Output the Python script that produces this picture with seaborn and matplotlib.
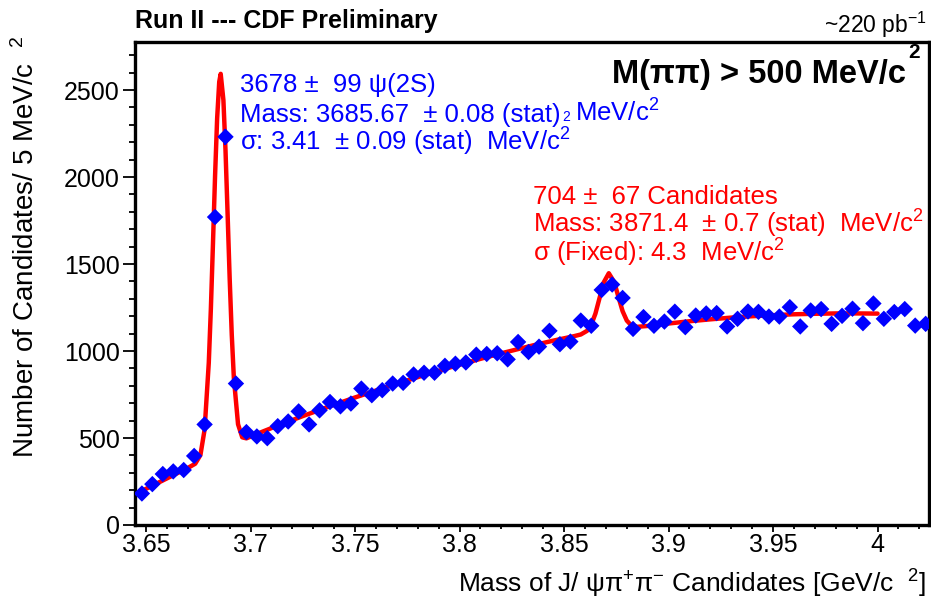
import numpy as np
import matplotlib
matplotlib.use("Agg")
import matplotlib.pyplot as plt
from matplotlib.ticker import MultipleLocator, FuncFormatter
import seaborn as sns

W, H = 931, 605

# histogram: 5 MeV bins, first bin centre at 3.648 GeV
bin_start = 3.648
bin_width = 0.005
candidates = [181, 235, 293, 308, 316, 397, 578, 1770, 2231, 813,
              534, 509, 499, 568, 595, 653, 578, 659, 707, 682,
              698, 784, 746, 775, 813, 817, 865, 875, 875, 915,
              927, 934, 979, 983, 987, 952, 1052, 994, 1025, 1116,
              1039, 1054, 1175, 1145, 1351, 1382, 1305, 1127, 1195, 1145,
              1169, 1226, 1137, 1204, 1216, 1218, 1141, 1185, 1227, 1225,
              1198, 1198, 1252, 1141, 1233, 1241, 1156, 1202, 1243, 1160,
              1273, 1185, 1224, 1241, 1146, 1156]

# fitted curve
fit_mass = [3.6465, 3.650, 3.655, 3.660, 3.665, 3.670, 3.6735, 3.676, 3.678, 3.680,
            3.681, 3.682, 3.683, 3.684, 3.685, 3.6857, 3.687, 3.688, 3.689, 3.690,
            3.691, 3.692, 3.694, 3.696, 3.698, 3.700, 3.705, 3.710, 3.715, 3.720,
            3.725, 3.730, 3.735, 3.740, 3.745, 3.750, 3.755, 3.760, 3.765, 3.770,
            3.775, 3.780, 3.785, 3.790, 3.795, 3.800, 3.805, 3.810, 3.815, 3.820,
            3.825, 3.830, 3.835, 3.840, 3.845, 3.850, 3.855, 3.858, 3.861, 3.863,
            3.865, 3.867, 3.869, 3.8714, 3.874, 3.876, 3.878, 3.880, 3.882, 3.885,
            3.890, 3.895, 3.900, 3.910, 3.920, 3.930, 3.940, 3.950, 3.960, 3.970,
            3.980, 3.990, 4.000]
fit_value = [188, 208, 238, 268, 298, 328, 352, 402, 548, 932,
             1243, 1616, 2004, 2337, 2547, 2593, 2442, 2155, 1789, 1416,
             1093, 845, 579, 504, 498, 508, 533, 557, 580, 603,
             626, 648, 670, 691, 712, 733, 753, 773, 793, 812,
             831, 850, 868, 886, 904, 921, 938, 955, 971, 987,
             1002, 1017, 1032, 1046, 1060, 1073, 1086, 1095, 1116, 1151,
             1215, 1306, 1395, 1447, 1396, 1311, 1229, 1175, 1149, 1139,
             1144, 1151, 1158, 1171, 1182, 1192, 1200, 1206, 1211, 1214,
             1216, 1216, 1215]

sns.set_theme(style="ticks")
plt.rcParams['font.family'] = ['Liberation Sans', 'DejaVu Sans']
plt.rcParams['text.color'] = 'black'
plt.rcParams['mathtext.fontset'] = 'custom'
plt.rcParams['mathtext.rm'] = 'Liberation Sans'
plt.rcParams['mathtext.it'] = 'Liberation Sans:italic'
plt.rcParams['mathtext.bf'] = 'Liberation Sans:bold'

mass = bin_start + bin_width * np.arange(len(candidates))
errors = np.sqrt(candidates)

fig = plt.figure(figsize=(W / 100, H / 100), dpi=100)
ax = fig.add_axes([135 / W, 1 - 525 / H, (929 - 135) / W, (525 - 42) / H])

sns.lineplot(x=fit_mass, y=fit_value, color='red', linewidth=3.2,
             estimator=None, sort=False, ax=ax, zorder=3)
ax.errorbar(mass, candidates, yerr=errors, fmt='none', ecolor='#0000ff',
            elinewidth=1.6, capsize=0, zorder=4)
sns.scatterplot(x=mass, y=candidates, marker='D', s=70, color='#0000ff',
                edgecolor='none', linewidth=0, ax=ax, zorder=5)

ax.set_xlim(3.6447, 4.0246)
ax.set_ylim(0, 2776)
ax.set_xlabel('')
ax.set_ylabel('')

ax.xaxis.set_major_locator(MultipleLocator(0.05))
ax.xaxis.set_minor_locator(MultipleLocator(0.01))
ax.yaxis.set_major_locator(MultipleLocator(500))
ax.yaxis.set_minor_locator(MultipleLocator(100))
ax.xaxis.set_major_formatter(FuncFormatter(lambda v, p: f"{v:g}"))

for sp in ax.spines.values():
    sp.set_linewidth(2.4)
    sp.set_color('black')
ax.tick_params(which='both', direction='out', top=False, right=False,
               colors='black', labelsize=18, width=1.3)
ax.tick_params(axis='y', which='major', length=9, pad=2)
ax.tick_params(axis='y', which='minor', length=4.5)
ax.tick_params(axis='x', which='major', length=5, pad=1)
ax.tick_params(axis='x', which='minor', length=3)


def fx(x):
    return x / W


def fy(y):
    return 1 - y / H


fig.text(fx(135), fy(28), "Run II --- CDF Preliminary", fontsize=18,
         fontweight='bold', ha='left', va='baseline')
fig.text(fx(927), fy(33), "~220 pb$^{-1}$", fontsize=16.5, ha='right', va='baseline')

fig.text(fx(26), fy(36), "Number of Candidates/ 5 MeV/c  $^{2}$", fontsize=20,
         rotation=90, ha='center', va='top')
fig.text(fx(926), fy(593), "Mass of J/ ψπ$^{+}$π$^{-}$ Candidates [GeV/c  $^{2}$]",
         fontsize=19, ha='right', va='baseline')

fig.text(fx(612), fy(83), "M(ππ) > 500 MeV/c", fontsize=23.5, fontweight='bold',
         ha='left', va='baseline')
fig.text(fx(914), fy(58), "2", fontsize=15, fontweight='bold', ha='center', va='baseline')

blue = '#0000ff'
fig.text(fx(240), fy(92), "3678 ±  99 ψ(2S)", fontsize=18.5, color=blue, va='baseline')
fig.text(fx(240), fy(122), "Mass: 3685.67  ± 0.08 (stat)", fontsize=18.5,
         color=blue, va='baseline')
fig.text(fx(566), fy(121), "2", fontsize=10, color=blue, ha='center', va='baseline')
fig.text(fx(575), fy(122), "MeV/c$^{2}$", fontsize=18.5, color=blue, va='baseline')
fig.text(fx(240), fy(151), "σ: 3.41  ± 0.09 (stat)  MeV/c$^{2}$", fontsize=18.5,
         color=blue, va='baseline')

red = '#ff0000'
fig.text(fx(533), fy(204), "704 ±  67 Candidates", fontsize=18.5, color=red, va='baseline')
fig.text(fx(533), fy(233), "Mass: 3871.4  ± 0.7 (stat)  MeV/c$^{2}$", fontsize=18.5,
         color=red, va='baseline')
fig.text(fx(533), fy(262), "σ (Fixed): 4.3  MeV/c$^{2}$", fontsize=18.5, color=red,
         va='baseline')

fig.savefig("out.png", dpi=100)
